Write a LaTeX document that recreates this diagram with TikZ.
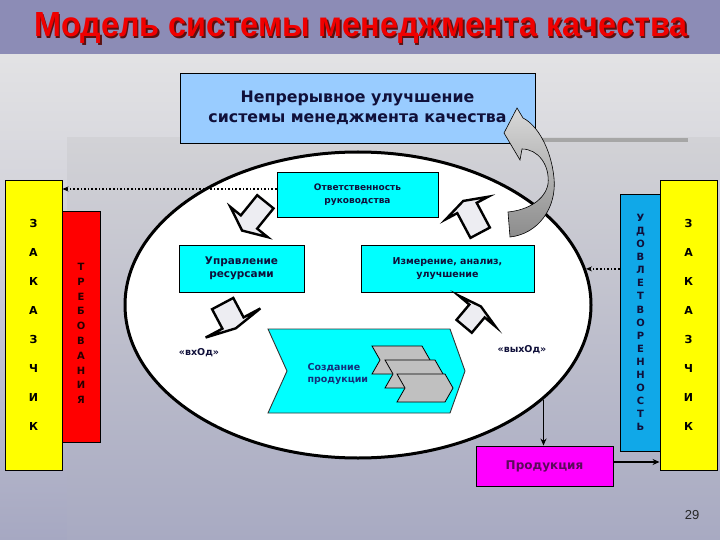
\documentclass[tikz,border=0pt]{standalone}
\usepackage{fontspec}
\setmainfont{DejaVu Sans}
\newfontfamily\libsans{Liberation Sans}
\usetikzlibrary{shapes.geometric,arrows.meta,calc}
\definecolor{titlebar}{HTML}{8C8CB6}
\definecolor{titlered}{HTML}{F00000}
\definecolor{titleshadow}{HTML}{5A1010}
\definecolor{skyblue}{HTML}{99CCFF}
\definecolor{cyanbox}{HTML}{00FFFF}
\definecolor{udovblue}{HTML}{10A8E8}
\definecolor{magbox}{HTML}{FF00FF}
\definecolor{prodtext}{HTML}{5A0A5A}
\definecolor{navytext}{HTML}{10103A}
\definecolor{sozdtext}{HTML}{14307A}
\definecolor{bgtop}{HTML}{E8E8E8}
\definecolor{bgmid}{HTML}{CCCCD6}
\definecolor{bgbot}{HTML}{A6A8C2}
\definecolor{paneltop}{HTML}{D2D2D6}
\definecolor{panelbot}{HTML}{A8AAC2}
\definecolor{blkfill}{HTML}{EDEDF2}
\definecolor{chevgray}{HTML}{C0C0C0}
\definecolor{zakyellow}{HTML}{FFFF00}
\newcommand\blkarrow[7]{%
  \draw[blk,shift={#1},rotate=#2] (-#3,-#4) -- (0,-#4) -- (0,-#5) -- (#6,0) -- (0,#5) -- (0,#4) -- (-#3,#4) -- cycle;}
\begin{document}
\begin{tikzpicture}[x=1pt,y=-1pt,
  box/.style={draw=black,line width=0.9pt,inner sep=1pt,align=center,text=navytext},
  blk/.style={draw=black,line width=2.4pt,fill=blkfill,line join=miter},
  dotarrow/.style={dotted,line width=1.6pt,-{Stealth[length=6pt,width=5pt]}},
  solidarrow/.style={line width=1.5pt,-{Stealth[length=7pt,width=6pt]}},
  chev/.style={draw=black,line width=0.8pt,fill=chevgray},
  lbl/.style={font=\bfseries\fontsize{9.5}{11}\selectfont,text=navytext}]
\useasboundingbox (0,0) rectangle (720,540);
% background
\shade[top color=bgtop,bottom color=bgbot,middle color=bgmid] (0,0) rectangle (720,540);
\shade[top color=paneltop,bottom color=panelbot] (67,138) rectangle (720,540);
\draw[line width=4pt,color=black!35] (535,140) -- (688,140);
\fill[titlebar] (0,0) rectangle (720,54);
% title
\node[font=\libsans\bfseries,text=titleshadow] (titleshadow) at (362.5,29.5) {\resizebox{653pt}{24pt}{Модель системы менеджмента качества}};
\node[font=\libsans\bfseries,text=titlered] (title) at (361,28) {\resizebox{653pt}{24pt}{Модель системы менеджмента качества}};
% top box
\node[box,fill=skyblue,minimum width=355pt,minimum height=70pt,font=\bfseries\fontsize{15.8}{20}\selectfont] (top) at (357.5,108) {Непрерывное улучшение\\системы менеджмента качества};
% side boxes
\node[draw=black,line width=0.9pt,fill=red,minimum width=38pt,minimum height=231pt,inner sep=0] (treb) at (81,326.5) {};
\node[font=\bfseries\fontsize{10}{14.8}\selectfont,align=center,text=black!85!red] (trebtext) at (81,333.5) {Т\\Р\\Е\\Б\\О\\В\\А\\Н\\И\\Я};
\node[draw=black,line width=0.9pt,fill=zakyellow,minimum width=57pt,minimum height=290pt,inner sep=0,align=center,font=\bfseries\fontsize{11}{28.9}\selectfont] (zakL) at (33.5,325) {З\\А\\К\\А\\З\\Ч\\И\\К};
\node[draw=black,line width=0.9pt,fill=udovblue,minimum width=41pt,minimum height=257pt,inner sep=0,align=center,text=navytext,font=\bfseries\fontsize{10}{13.1}\selectfont] (udov) at (640.5,322.5) {У\\Д\\О\\В\\Л\\Е\\Т\\В\\О\\Р\\Е\\Н\\Н\\О\\С\\Т\\Ь};
\node[draw=black,line width=0.9pt,fill=zakyellow,minimum width=57pt,minimum height=290pt,inner sep=0,align=center,font=\bfseries\fontsize{11}{28.9}\selectfont] (zakR) at (688.5,325) {З\\А\\К\\А\\З\\Ч\\И\\К};
% ellipse
\node[ellipse,draw=black,line width=3pt,fill=white,minimum width=466pt,minimum height=306pt,inner sep=0] (ell) at (358,305) {};
% inner boxes
\node[box,fill=cyanbox,minimum width=161pt,minimum height=45pt,font=\bfseries\fontsize{9}{13}\selectfont] (otv) at (357.5,194.5) {Ответственность\\руководства};
\node[box,fill=cyanbox,minimum width=125pt,minimum height=47pt,font=\bfseries\fontsize{10.5}{13}\selectfont,anchor=center] (upr) at (241.5,268.5) {Управление\\ресурсами};
\node[box,fill=cyanbox,minimum width=173pt,minimum height=47pt,font=\bfseries\fontsize{9.5}{13}\selectfont] (izm) at (447.5,268.5) {Измерение, анализ,\\улучшение};
% production chevron
\draw[draw=black!80,line width=0.9pt,fill=cyanbox] (268,329) -- (450,329) -- (465,371) -- (450,413) -- (268,413) -- (287,371) -- cycle;
\draw[chev] (372,346) -- (422,346) -- (430,360) -- (422,374) -- (372,374) -- (380,360) -- cycle;
\draw[chev] (385,360) -- (435,360) -- (443,374) -- (435,388) -- (385,388) -- (393,374) -- cycle;
\draw[chev] (397,374) -- (445,374) -- (453,388) -- (445,402) -- (397,402) -- (405,388) -- cycle;
\node[font=\bfseries\fontsize{9.5}{12}\selectfont,text=sozdtext,align=left,anchor=west] (sozd) at (304,374) {Создание\\продукции};
% block arrows
\blkarrow{(249,222)}{231}{26}{10.5}{24}{11}{}
\blkarrow{(233,323)}{298}{22}{12}{31}{6}{}
\blkarrow{(477,311)}{50}{20}{10}{24}{6}{}
\blkarrow{(467,208)}{118}{28}{11}{24}{8}{}
% labels
\node[lbl] (vhod) at (199,353) {«вхОд»};
\node[lbl] (vyhod) at (522,350) {«выхОд»};
% curved arrow
\shade[top color=black!15,bottom color=black!45,draw=black,line width=0.6pt] (517,108) -- (504,133) -- (520,160) -- (522,149) .. controls (538,149) and (550,165) .. (548,184) .. controls (545,200) and (528,210) .. (508,212) -- (510,237) .. controls (538,234) and (557,208) .. (554,178) .. controls (551,148) and (537,125) .. (523,118) -- cycle;
% product box
\node[box,fill=magbox,minimum width=137pt,minimum height=40pt,text=prodtext,font=\bfseries\fontsize{12}{14}\selectfont] (prod) at (544.5,466) {Продукция};
% connectors
\coordinate (d1) at ($(otv.west)+(0,-5.5)$);
\draw[dotarrow] (d1) -- (d1 -| zakL.east);
\draw[dotarrow] (udov.west |- ell.9.5) -- (ell.9.5);
\draw[solidarrow] (ell.-27.8) -- (ell.-27.8 |- prod.north);
\coordinate (p1) at ($(prod.east)+(0,-4)$);
\draw[solidarrow] (p1) -- (p1 -| zakR.west);
% page number
\node[font=\libsans\fontsize{13}{15}\selectfont,text=black!85] (pnum) at (692,515) {29};
\end{tikzpicture}
\end{document}
